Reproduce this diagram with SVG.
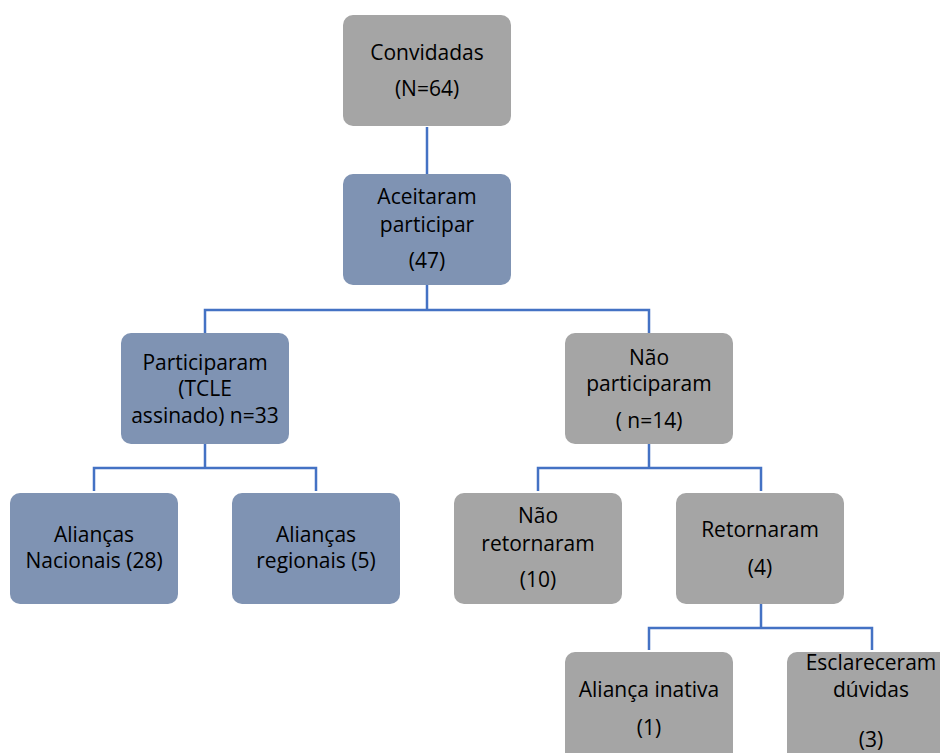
<svg xmlns="http://www.w3.org/2000/svg" width="940" height="753" viewBox="0 0 940 753">
<style>
.g{fill:#A5A5A5}
.b{fill:#7F93B3}
text{font-family:"Open Sans","Liberation Sans",sans-serif;font-size:21px;fill:#000;text-anchor:middle}
.c{fill:none;stroke:#4472C4;stroke-width:2.5}
</style>
<rect width="940" height="753" fill="#fff"/>
<g id="connectors">
<path class="c" d="M427 127V174"/>
<path class="c" d="M427 285V310H205V333M427 310H649V333"/>
<path class="c" d="M205 444V468H94V491M205 468H316V491"/>
<path class="c" d="M649 444V468H538V491M649 468H761V491"/>
<path class="c" d="M761 604V628H649V650M761 628H872V650"/>
</g>
<g id="convidadas"><rect class="g" x="343" y="15" width="168" height="111" rx="10"/><text x="427" y="60">Convidadas</text><text x="427" y="96">(N=64)</text></g>
<g id="aceitaram"><rect class="b" x="343" y="174" width="168" height="111" rx="10"/><text x="427" y="204">Aceitaram</text><text x="427" y="232">participar</text><text x="427" y="268">(47)</text></g>
<g id="participaram"><rect class="b" x="121" y="333" width="168" height="111" rx="10"/><text x="205" y="370">Participaram</text><text x="205" y="396">(TCLE</text><text x="205" y="423">assinado) n=33</text></g>
<g id="nao-participaram"><rect class="g" x="565" y="333" width="168" height="111" rx="10"/><text x="649" y="365">Não</text><text x="649" y="391">participaram</text><text x="649" y="428">( n=14)</text></g>
<g id="aliancas-nacionais"><rect class="b" x="10" y="493" width="168" height="111" rx="10"/><text x="94" y="542">Alianças</text><text x="94" y="568">Nacionais (28)</text></g>
<g id="aliancas-regionais"><rect class="b" x="232" y="493" width="168" height="111" rx="10"/><text x="316" y="542">Alianças</text><text x="316" y="568">regionais (5)</text></g>
<g id="nao-retornaram"><rect class="g" x="454" y="493" width="168" height="111" rx="10"/><text x="538" y="523">Não</text><text x="538" y="551">retornaram</text><text x="538" y="587">(10)</text></g>
<g id="retornaram"><rect class="g" x="676" y="493" width="168" height="111" rx="10"/><text x="760" y="537">Retornaram</text><text x="760" y="575">(4)</text></g>
<g id="alianca-inativa"><rect class="g" x="565" y="652" width="168" height="111" rx="10"/><text x="649" y="697">Aliança inativa</text><text x="649" y="735">(1)</text></g>
<g id="esclareceram"><rect class="g" x="787" y="652" width="168" height="111" rx="10"/><text x="871" y="670">Esclareceram</text><text x="871" y="697">dúvidas</text><text x="871" y="747">(3)</text></g>
</svg>
